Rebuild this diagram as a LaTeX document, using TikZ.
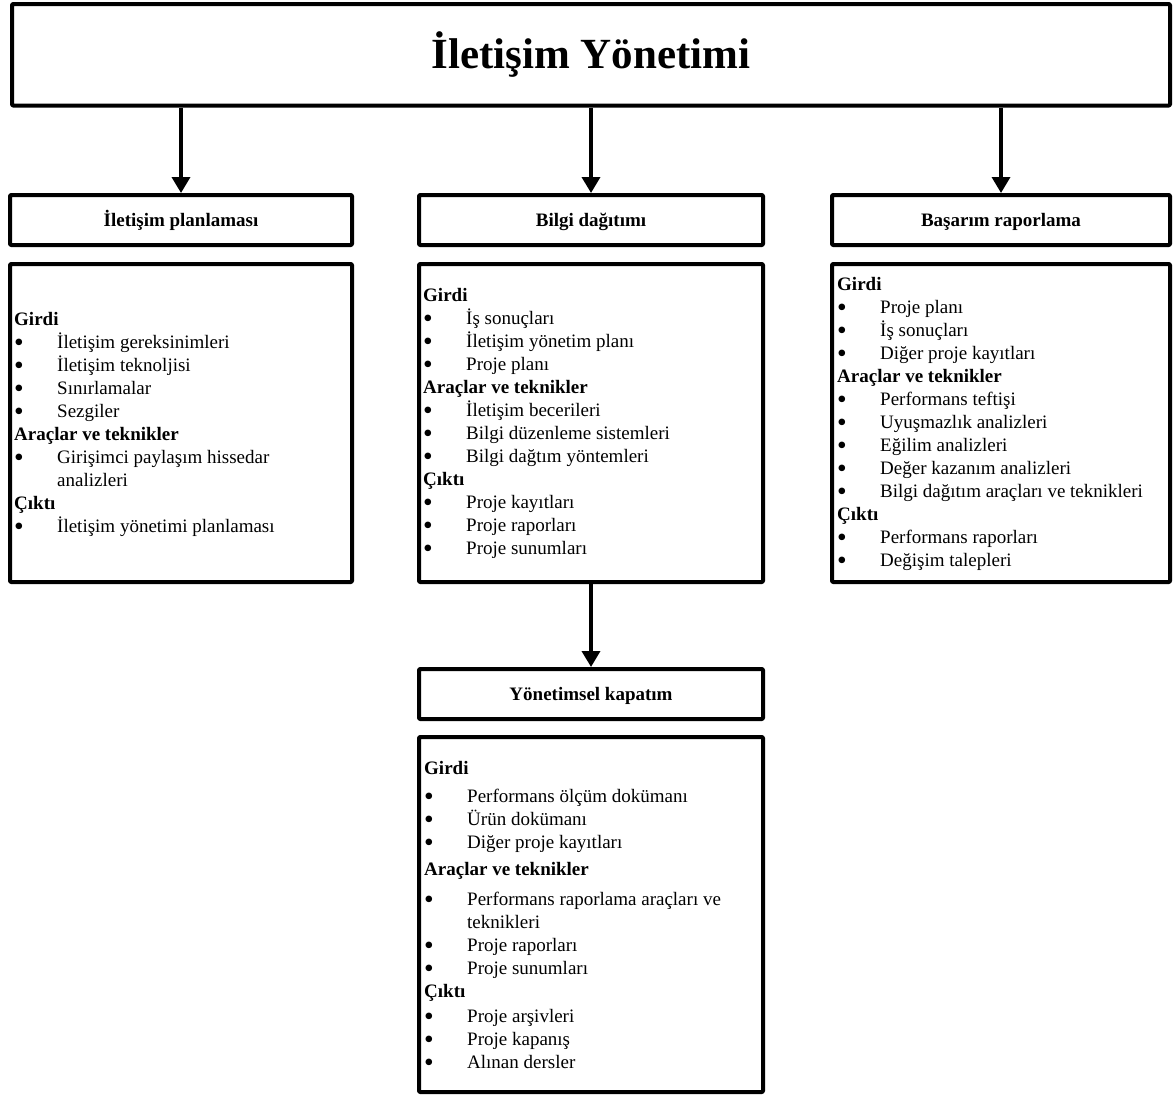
\documentclass[tikz,border=0pt]{standalone}
\usepackage{fontspec}
\usepackage{graphicx}
\setmainfont{Liberation Serif}
\usetikzlibrary{arrows.meta}

% list helpers: section heading spanning both columns, bullet cell
\newcommand\lsthead[1]{\multicolumn{2}{@{}l@{}}{\bfseries #1}}
\newcommand\lstbul{\makebox[43pt][l]{\smash{\raisebox{-3.8pt}{\scalebox{1.45}{\textbullet}}}}}

\begin{document}
\begin{tikzpicture}[x=1pt,y=-1pt,
  frame/.style={draw, rectangle, line width=4pt, line join=round, rounded corners=1pt, inner sep=0pt},
  headbox/.style={frame, minimum height=50pt, text height=16pt, text depth=4pt,
    font=\fontsize{19}{23}\selectfont\bfseries},
  bodybox/.style={frame},
  link/.style={line width=3.5pt, -{Triangle[length=16pt,width=18pt]}},
  listtext/.style={anchor=base west, inner sep=0pt, font=\fontsize{19}{23}\selectfont}
]
\useasboundingbox (0,0) rectangle (1175,1095);

% main title
\node[frame, minimum width=1158pt, minimum height=101.5pt,
      font=\fontsize{43}{50}\selectfont\bfseries] (title) at (591,54.75) {İletişim Yönetimi};

% process headers
\node[headbox, minimum width=342pt] (planHead) at (181,220) {İletişim planlaması};
\node[headbox, minimum width=344pt] (distHead) at (591,220) {Bilgi dağıtımı};
\node[headbox, minimum width=338pt] (perfHead) at (1001,220) {Başarım raporlama};
\node[headbox, minimum width=344pt] (closeHead) at (591,694) {Yönetimsel kapatım};

% process detail boxes
\node[bodybox, minimum width=342pt, minimum height=318pt] (planBody) at (181,423) {};
\node[bodybox, minimum width=344pt, minimum height=318pt] (distBody) at (591,423) {};
\node[bodybox, minimum width=338pt, minimum height=318pt] (perfBody) at (1001,423) {};
\node[bodybox, minimum width=344pt, minimum height=355pt] (closeBody) at (591,914.5) {};

% connectors
\draw[link] (title.south -| planHead.north) -- (planHead.north);
\draw[link] (title.south -| distHead.north) -- (distHead.north);
\draw[link] (title.south -| perfHead.north) -- (perfHead.north);
\draw[link] (distBody.south) -- (closeHead.north);

% detail texts
\node[listtext] (planText) at (14,325) {%
\begin{tabular}[t]{@{}l@{}l@{}}
\lsthead{Girdi}\\
\lstbul & İletişim gereksinimleri\\
\lstbul & İletişim teknoljisi\\
\lstbul & Sınırlamalar\\
\lstbul & Sezgiler\\
\lsthead{Araçlar ve teknikler}\\
\lstbul & Girişimci paylaşım hissedar\\
 & analizleri\\
\lsthead{Çıktı}\\
\lstbul & İletişim yönetimi planlaması
\end{tabular}};

\node[listtext] (distText) at (423,301) {%
\begin{tabular}[t]{@{}l@{}l@{}}
\lsthead{Girdi}\\
\lstbul & İş sonuçları\\
\lstbul & İletişim yönetim planı\\
\lstbul & Proje planı\\
\lsthead{Araçlar ve teknikler}\\
\lstbul & İletişim becerileri\\
\lstbul & Bilgi düzenleme sistemleri\\
\lstbul & Bilgi dağtım yöntemleri\\
\lsthead{Çıktı}\\
\lstbul & Proje kayıtları\\
\lstbul & Proje raporları\\
\lstbul & Proje sunumları
\end{tabular}};

\node[listtext] (perfText) at (837,290) {%
\begin{tabular}[t]{@{}l@{}l@{}}
\lsthead{Girdi}\\
\lstbul & Proje planı\\
\lstbul & İş sonuçları\\
\lstbul & Diğer proje kayıtları\\
\lsthead{Araçlar ve teknikler}\\
\lstbul & Performans teftişi\\
\lstbul & Uyuşmazlık analizleri\\
\lstbul & Eğilim analizleri\\
\lstbul & Değer kazanım analizleri\\
\lstbul & Bilgi dağıtım araçları ve teknikleri\\
\lsthead{Çıktı}\\
\lstbul & Performans raporları\\
\lstbul & Değişim talepleri
\end{tabular}};

\node[listtext] (closeText) at (424,774) {%
\begin{tabular}[t]{@{}l@{}l@{}}
\lsthead{Girdi}\\[5pt]
\lstbul & Performans ölçüm dokümanı\\
\lstbul & Ürün dokümanı\\
\lstbul & Diğer proje kayıtları\\[4pt]
\lsthead{Araçlar ve teknikler}\\[7pt]
\lstbul & Performans raporlama araçları ve\\
 & teknikleri\\
\lstbul & Proje raporları\\
\lstbul & Proje sunumları\\
\lsthead{Çıktı}\\[2pt]
\lstbul & Proje arşivleri\\
\lstbul & Proje kapanış\\
\lstbul & Alınan dersler
\end{tabular}};
\end{tikzpicture}
\end{document}
